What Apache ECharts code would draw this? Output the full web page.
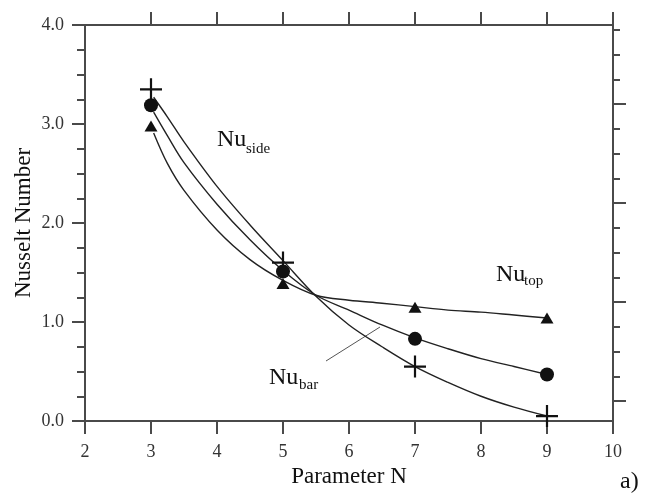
<!DOCTYPE html>
<html>
<head>
<meta charset="utf-8">
<script src="https://cdn.jsdelivr.net/npm/echarts@6/dist/echarts.min.js"></script>
<style>
  html, body { margin: 0; padding: 0; background: #fff; }
  #chart { width: 660px; height: 496px; }
</style>
</head>
<body>
<div id="chart"></div>
<script>
// Measured Nusselt numbers at N = 3, 5, 7, 9
const paramN = [3, 5, 7, 9];
const nuSide = [3.35, 1.60, 0.55, 0.05];
const nuBar  = [3.19, 1.51, 0.83, 0.47];
const nuTop  = [2.98, 1.39, 1.15, 1.04];

// Fitted curves through the measurements
const fitN    = [3.04, 3.25, 3.5, 4.0, 4.5, 5.0, 5.5, 6.0, 6.5, 7.0, 7.5, 8.0, 8.5, 9.0];
const fitSide = [3.27, 3.07, 2.82, 2.37, 1.98, 1.62, 1.26, 0.97, 0.75, 0.55, 0.39, 0.25, 0.14, 0.05];
const fitBar  = [3.12, 2.88, 2.61, 2.19, 1.83, 1.52, 1.27, 1.12, 0.97, 0.84, 0.73, 0.63, 0.55, 0.47];
const fitTop  = [2.91, 2.60, 2.33, 1.93, 1.63, 1.42, 1.27, 1.22, 1.19, 1.155, 1.12, 1.10, 1.07, 1.04];

// Tick positions
const topTicks = [3, 4, 5, 6, 7, 8, 9, 10];
const rightMajorTicks = [0.2, 1.2, 2.2, 3.2];
const rightMinorTicks = [0.45, 0.7, 0.95, 1.45, 1.7, 1.95, 2.45, 2.7, 2.95, 3.45, 3.7, 3.95];

const FONT = '"Liberation Serif", "Times New Roman", serif';
const AXIS = '#4a4a4a';
const INK = '#111';

const pairs = (xs, ys) => xs.map((x, i) => [x, ys[i]]);
const crossPath = 'path://M9,0H11V9H20V11H11V20H9V11H0V9H9Z';

const chart = echarts.init(document.getElementById('chart'), null, { renderer: 'canvas' });

const lineSeries = (data) => ({
  type: 'line', data, smooth: 0.35, symbol: 'none',
  lineStyle: { color: '#222', width: 1.4 }, silent: true, z: 2
});
const markerSeries = (data, symbol, size) => ({
  type: 'scatter', data, symbol, symbolSize: size,
  itemStyle: { color: INK, opacity: 1 }, silent: true, z: 3
});

chart.setOption({
  animation: false,
  backgroundColor: '#fff',
  grid: { left: 85, top: 25, width: 528, height: 396 },
  xAxis: [
    {
      type: 'value', position: 'bottom', min: 2, max: 10, interval: 1,
      name: 'Parameter N', nameLocation: 'middle', nameGap: 44, nameMoveOverlap: false,
      nameTextStyle: { fontFamily: FONT, fontSize: 23, color: INK },
      axisLine: { show: true, lineStyle: { color: AXIS, width: 2 } },
      axisTick: { show: true, inside: false, length: 13, lineStyle: { color: AXIS, width: 2 } },
      axisLabel: { fontFamily: FONT, fontSize: 18, color: '#333', margin: 22 },
      splitLine: { show: false }
    },
    {
      type: 'value', position: 'top', min: 2, max: 10, interval: 1,
      axisLine: { show: true, onZero: false, lineStyle: { color: AXIS, width: 2 } },
      axisTick: { show: true, inside: false, length: 13, customValues: topTicks, lineStyle: { color: AXIS, width: 2 } },
      axisLabel: { show: false },
      splitLine: { show: false }
    }
  ],
  yAxis: [
    {
      type: 'value', position: 'left', min: 0, max: 4, interval: 1,
      name: 'Nusselt Number', nameLocation: 'middle', nameGap: 50, nameMoveOverlap: false,
      nameTextStyle: { fontFamily: FONT, fontSize: 23, color: INK },
      axisLine: { show: true, lineStyle: { color: AXIS, width: 2 } },
      axisTick: { show: true, inside: false, length: 13, lineStyle: { color: AXIS, width: 2 } },
      minorTick: { show: true, splitNumber: 4, length: 8, lineStyle: { color: AXIS, width: 2 } },
      axisLabel: { fontFamily: FONT, fontSize: 18, color: '#333', margin: 21, formatter: v => v.toFixed(1) },
      splitLine: { show: false }
    },
    {
      type: 'value', position: 'right', min: 0, max: 4,
      axisLine: { show: true, onZero: false, lineStyle: { color: AXIS, width: 2 } },
      axisTick: { show: true, inside: false, length: 13, customValues: rightMajorTicks, lineStyle: { color: AXIS, width: 2 } },
      axisLabel: { show: false },
      splitLine: { show: false }
    },
    {
      type: 'value', position: 'right', min: 0, max: 4,
      axisLine: { show: false },
      axisTick: { show: true, inside: false, length: 7, customValues: rightMinorTicks, lineStyle: { color: AXIS, width: 2 } },
      axisLabel: { show: false },
      splitLine: { show: false }
    }
  ],
  series: [
    lineSeries(pairs(fitN, fitSide)),
    lineSeries(pairs(fitN, fitBar)),
    lineSeries(pairs(fitN, fitTop)),
    markerSeries(pairs(paramN, nuSide), crossPath, 22),
    markerSeries(pairs(paramN, nuBar), 'circle', 14),
    markerSeries(pairs(paramN, nuTop), 'triangle', [13, 11])
  ],
  graphic: [
    { type: 'line', shape: { x1: 326, y1: 361, x2: 380, y2: 327 }, style: { stroke: '#555', lineWidth: 1 }, silent: true },
    { type: 'text', x: 217, y: 140, style: { text: 'Nu', font: '24px ' + FONT, fill: INK, verticalAlign: 'middle' } },
    { type: 'text', x: 246, y: 149, style: { text: 'side', font: '15px ' + FONT, fill: INK, verticalAlign: 'middle' } },
    { type: 'text', x: 496, y: 275, style: { text: 'Nu', font: '24px ' + FONT, fill: INK, verticalAlign: 'middle' } },
    { type: 'text', x: 524, y: 281, style: { text: 'top', font: '15px ' + FONT, fill: INK, verticalAlign: 'middle' } },
    { type: 'text', x: 269, y: 378, style: { text: 'Nu', font: '24px ' + FONT, fill: INK, verticalAlign: 'middle' } },
    { type: 'text', x: 299, y: 385, style: { text: 'bar', font: '15px ' + FONT, fill: INK, verticalAlign: 'middle' } },
    { type: 'text', x: 620, y: 482, style: { text: 'a)', font: '24px ' + FONT, fill: INK, verticalAlign: 'middle' } }
  ]
});
</script>
</body>
</html>
